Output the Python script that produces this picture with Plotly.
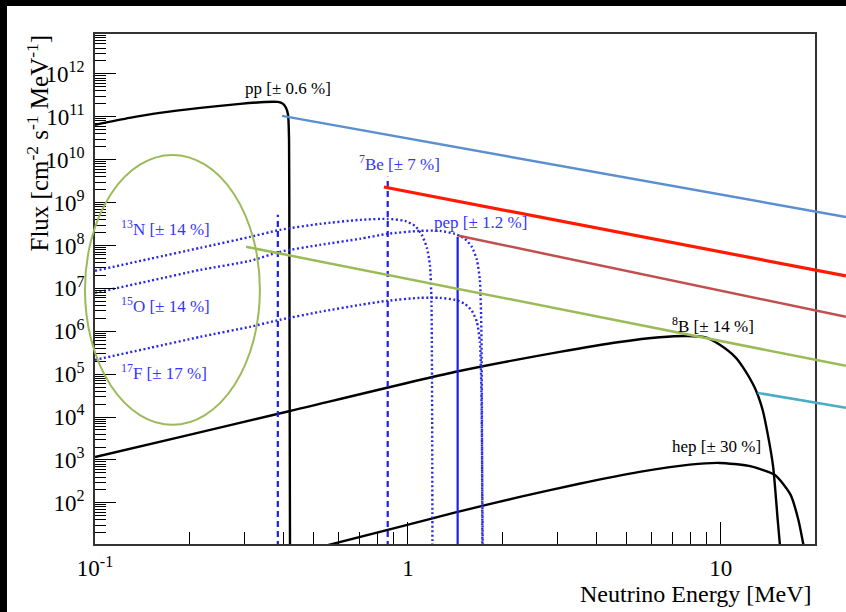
import numpy as np
import plotly.graph_objects as go

W, H = 846, 612

# ---------------- data ----------------
pp_energy = [0.100, 0.129, 0.161, 0.217, 0.291, 0.349, 0.384, 0.399, 0.408, 0.414, 0.417, 0.418, 0.420]
pp_flux = [6.5e10, 9.4e10, 1.23e11, 1.61e11, 2.0e11, 2.22e11, 2.22e11, 2.0e11, 1.61e11, 1.11e11, 2.9e10, 7.9e7, 5]

b8_energy = [0.1, 0.2, 0.42, 1.41, 3.06, 4.75, 6.38, 7.78, 9.0, 9.93, 11.1, 11.75, 12.84, 13.6, 14.1, 14.7, 15.2, 15.6]
b8_flux = [1.17e3, 3.85e3, 1.38e4, 1.12e5, 3.31e5, 5.62e5, 7.24e5, 7.76e5, 7.08e5, 4.82e5, 2.53e5, 1.48e5,
           4.79e4, 1.48e4, 4.27e3, 692, 39.8, 4.7]

hep_energy = [0.5, 0.94, 1.41, 2.28, 3.5, 5.5, 7.96, 9.93, 12.3, 14.9, 16.7, 17.7, 18.5]
hep_flux = [8.5, 27.5, 58.9, 138, 275, 525, 776, 851, 724, 447, 155, 39.8, 7.9]

n13_energy = [0.100, 0.150, 0.217, 0.313, 0.390, 0.523, 0.703, 0.857, 0.978, 1.053, 1.108, 1.150, 1.176, 1.189, 1.198]
n13_flux = [2.56e7, 4.9e7, 8.8e7, 1.58e8, 2.31e8, 3.18e8, 3.95e8, 4.17e8, 3.74e8, 2.86e8, 1.77e8, 8.8e7,
            3.5e7, 5.4e6, 5]

o15_energy = [0.100, 0.150, 0.217, 0.313, 0.390, 0.523, 0.703, 0.857, 1.092, 1.265, 1.413, 1.520, 1.601,
              1.661, 1.698, 1.717, 1.730]
o15_flux = [7.85e6, 1.50e7, 2.70e7, 4.38e7, 7.10e7, 1.03e8, 1.43e8, 1.86e8, 2.19e8, 2.19e8, 1.86e8, 1.43e8,
            9.27e7, 4.61e7, 1.58e7, 1.08e6, 5]

f17_energy = [0.100, 0.150, 0.217, 0.313, 0.390, 0.523, 0.703, 0.857, 1.092, 1.265, 1.413, 1.520, 1.601,
              1.661, 1.698, 1.717, 1.735]
f17_flux = [2.15e5, 4.10e5, 7.41e5, 1.27e6, 1.85e6, 2.83e6, 4.12e6, 5.12e6, 6.01e6, 6.01e6, 5.40e6, 4.36e6,
            2.99e6, 1.66e6, 5.66e5, 4.31e4, 5]

be7_energy = [0.384, 0.862]
be7_flux = [5.2e8, 4.0e9]
pep_energy = [1.442]
pep_flux = [1.58e8]

label_text = ["pp [± 0.6 %]", "<sup>7</sup>Be [± 7 %]", "pep [± 1.2 %]",
              "<sup>13</sup>N [± 14 %]", "<sup>15</sup>O [± 14 %]", "<sup>17</sup>F [± 17 %]",
              "<sup>8</sup>B [± 14 %]", "hep [± 30 %]"]
label_energy = [0.414, 0.94, 1.70, 0.119, 0.119, 0.119, 9.42, 9.7]
label_flux = [10**11.67, 10**9.93, 10**8.53, 10**8.41, 10**6.62, 10**5.05, 10**6.15, 10**3.31]
label_color = ["black", "#3535ff", "#3535ff", "#3535ff", "#3535ff", "#3535ff", "black", "black"]
label_anchor = ["center", "center", "center", "left", "left", "left", "center", "center"]

# hand-drawn highlight lines (start on a spectrum, run off to the right edge)
overlay_E_start = [0.396, 0.838, 1.455, 0.304, 13.1]
overlay_F_start = [1.05e11, 2.3e9, 1.68e8, 9.3e7, 3.66e4]
overlay_E_end = [25.1, 25.1, 25.1, 25.1, 25.1]
overlay_F_end = [4.6e8, 1.95e7, 2.17e6, 1.56e5, 1.64e4]
overlay_colors = ["#5b8fcf", "#ff1a00", "#c0504d", "#9bbb59", "#4bacc6"]
overlay_widths = [2.5, 3.2, 2.5, 2.5, 2.5]

# green ellipse around the CNO labels (energy / flux bounds)
ellipse_E = [0.0929, 0.3365]
ellipse_F = [6.6e3, 1.29e10]

# axes
x_range_log = [-1.0, np.log10(20.0)]
y_range_log = [1.04, 12.93]
x_major = [0.1, 1, 10]
x_major_text = ["10<sup>-1</sup>", "1", "10"]
y_exponents = list(range(2, 13))

# ---------------- layout geometry ----------------
xdom = [95 / W, 815 / W]
ydom = [1 - 544 / H, 1 - 34 / H]

def full_range(r, dom):
    s = (r[1] - r[0]) / (dom[1] - dom[0])
    return [r[0] - dom[0] * s, r[0] + (1 - dom[0]) * s]

x2_range = full_range(x_range_log, xdom)
y2_range = full_range(y_range_log, ydom)

FONT = "Liberation Serif, Times New Roman, serif"
floor = 10 ** (y_range_log[0] - 1)

fig = go.Figure()

# black spectra
for E, F in [(pp_energy, pp_flux), (b8_energy, b8_flux), (hep_energy, hep_flux)]:
    fig.add_trace(go.Scatter(x=E, y=F, mode="lines",
                             line=dict(color="black", width=2.4, shape="spline", smoothing=0.6),
                             hoverinfo="skip"))

# CNO dotted
for E, F in [(n13_energy, n13_flux), (o15_energy, o15_flux), (f17_energy, f17_flux)]:
    fig.add_trace(go.Scatter(x=E, y=F, mode="lines",
                             line=dict(color="rgb(40,40,235)", width=2.4, dash="2px,2.5px",
                                       shape="spline", smoothing=0.6),
                             hoverinfo="skip"))

# 7Be lines (dashed) and pep line (solid)
for E, F in zip(be7_energy, be7_flux):
    fig.add_trace(go.Scatter(x=[E, E], y=[floor, F], mode="lines",
                             line=dict(color="rgb(30,30,235)", width=2.2, dash="6px,4px"),
                             hoverinfo="skip"))
for E, F in zip(pep_energy, pep_flux):
    fig.add_trace(go.Scatter(x=[E, E], y=[floor, F], mode="lines",
                             line=dict(color="rgb(30,30,235)", width=2.2),
                             hoverinfo="skip"))

# overlay highlight lines on full-figure axes (log10 units)
for e0, f0, e1, f1, c, w in zip(overlay_E_start, overlay_F_start, overlay_E_end, overlay_F_end,
                                overlay_colors, overlay_widths):
    fig.add_trace(go.Scatter(x=[np.log10(e0), np.log10(e1)], y=[np.log10(f0), np.log10(f1)],
                             mode="lines", xaxis="x2", yaxis="y2",
                             line=dict(color=c, width=w), hoverinfo="skip"))

annotations = []
for t, e, f, c, a in zip(label_text, label_energy, label_flux, label_color, label_anchor):
    annotations.append(dict(x=np.log10(e), y=np.log10(f), xref="x", yref="y", text=t,
                            showarrow=False, xanchor=a, yanchor="middle",
                            font=dict(family=FONT, size=17, color=c)))

annotations.append(dict(x=37 / W, y=1 - 33 / H, xref="paper", yref="paper",
                        text="Flux [cm<sup>-2</sup> s<sup>-1</sup> MeV<sup>-1</sup>]",
                        textangle=-90, showarrow=False, xanchor="center", yanchor="top",
                        font=dict(family=FONT, size=25, color="black")))
annotations.append(dict(x=814 / W, y=1 - 594 / H, xref="paper", yref="paper",
                        text="Neutrino Energy [MeV]", showarrow=False,
                        xanchor="right", yanchor="middle",
                        font=dict(family=FONT, size=24, color="black")))

shapes = [
    dict(type="circle", xref="x2", yref="y2",
         x0=np.log10(ellipse_E[0]), x1=np.log10(ellipse_E[1]),
         y0=np.log10(ellipse_F[0]), y1=np.log10(ellipse_F[1]),
         line=dict(color="#9bbb59", width=2), fillcolor="rgba(0,0,0,0)", layer="above"),
    dict(type="rect", xref="paper", yref="paper", x0=0, x1=1, y0=1 - 6 / H, y1=1,
         fillcolor="black", line=dict(width=0), layer="above"),
    dict(type="rect", xref="paper", yref="paper", x0=0, x1=7 / W, y0=0, y1=1,
         fillcolor="black", line=dict(width=0), layer="above"),
]

x_minor = [m * 10.0 ** k for k in (-1, 0, 1) for m in range(2, 10) if m * 10.0 ** k < 20]
y_minor = [m * 10.0 ** k for k in range(1, 13) for m in range(2, 10)]

fig.update_layout(
    width=W, height=H,
    margin=dict(l=0, r=0, t=0, b=0, pad=0),
    paper_bgcolor="white", plot_bgcolor="rgba(0,0,0,0)",
    showlegend=False,
    annotations=annotations,
    shapes=shapes,
    xaxis=dict(type="log", range=x_range_log, domain=xdom, anchor="y",
               tickmode="array", tickvals=x_major, ticktext=x_major_text,
               ticks="inside", ticklen=22, tickwidth=1.2, tickcolor="black",
               minor=dict(tickmode="array", tickvals=x_minor, ticks="inside", ticklen=12,
                          tickwidth=1.2, tickcolor="black", showgrid=False),
               showline=True, linecolor="#333", linewidth=1.5, mirror=True,
               showgrid=False, zeroline=False, automargin=False,
               ticklabelstandoff=3,
               tickfont=dict(family=FONT, size=23, color="black")),
    yaxis=dict(type="log", range=y_range_log, domain=ydom, anchor="x",
               tickmode="array", tickvals=[10.0 ** k for k in y_exponents],
               ticktext=["10<sup>%d</sup>" % k for k in y_exponents],
               ticks="inside", ticklen=21, tickwidth=1.2, tickcolor="black",
               minor=dict(tickmode="array", tickvals=y_minor, ticks="inside", ticklen=11,
                          tickwidth=1.2, tickcolor="black", showgrid=False),
               showline=True, linecolor="#333", linewidth=1.5, mirror=True,
               showgrid=False, zeroline=False, automargin=False,
               ticklabelstandoff=4,
               tickfont=dict(family=FONT, size=23, color="black")),
    xaxis2=dict(range=x2_range, domain=[0, 1], anchor="y2", visible=False, fixedrange=True),
    yaxis2=dict(range=y2_range, domain=[0, 1], anchor="x2", visible=False, fixedrange=True),
)

fig.write_html("out.html")
